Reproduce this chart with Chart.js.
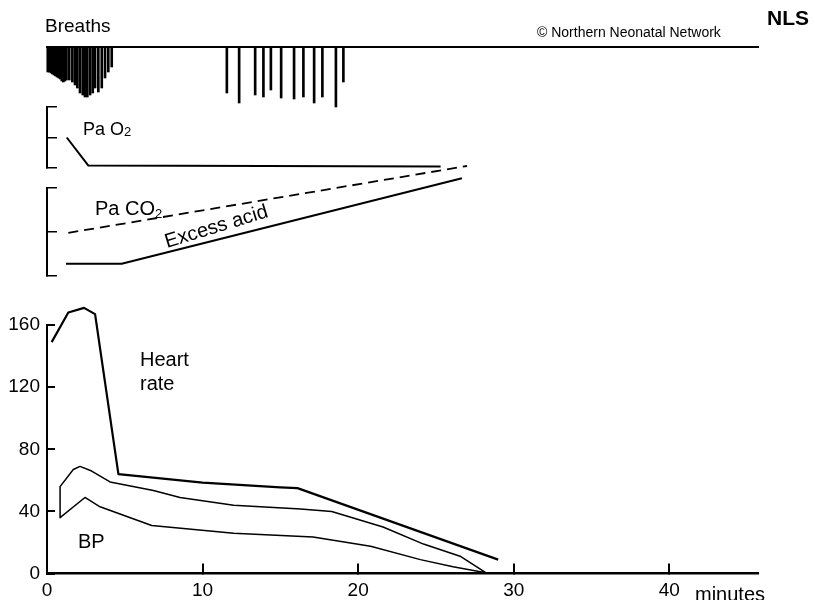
<!DOCTYPE html>
<html>
<head>
<meta charset="utf-8">
<title>Neonatal asphyxia timeline</title>
<script src="https://cdn.jsdelivr.net/npm/chart.js@4.4.1/dist/chart.umd.min.js"></script>
<style>
  html, body { margin: 0; padding: 0; background: #fff; }
  #wrap { position: relative; width: 815px; height: 600px; overflow: hidden;
          font-family: "Liberation Sans", Arial, sans-serif; color: #000; }
  canvas { position: absolute; left: 0; top: 0; }
  .lbl { position: absolute; white-space: nowrap; line-height: 1; }
  .lbl sub { font-size: 13px; vertical-align: -2px; line-height: 0; }
</style>
</head>
<body>
<div id="wrap">
  <canvas id="breaths" width="815" height="600"></canvas>
  <canvas id="po2" width="815" height="600"></canvas>
  <canvas id="pco2" width="815" height="600"></canvas>
  <canvas id="heart" width="815" height="600"></canvas>

  <div class="lbl" style="left:45px;top:16px;font-size:19px">Breaths</div>
  <div class="lbl" style="left:537px;top:25px;font-size:14px">© Northern Neonatal Network</div>
  <div class="lbl" style="left:767px;top:7px;font-size:21px;font-weight:bold">NLS</div>
  <div class="lbl" style="left:83px;top:120px;font-size:18px">Pa O<sub style="vertical-align:-1px">2</sub></div>
  <div class="lbl" style="left:95px;top:198px;font-size:20px">Pa CO<sub style="vertical-align:-3px">2</sub></div>
  <div class="lbl" style="left:167px;top:231px;font-size:20px;transform-origin:0 17px;transform:rotate(-17deg)">Excess acid</div>
  <div class="lbl" style="left:140px;top:347px;font-size:20px;line-height:24px">Heart<br>rate</div>
  <div class="lbl" style="left:78px;top:531px;font-size:20px">BP</div>
  <div class="lbl" style="left:695px;top:584px;font-size:20px">minutes</div>
</div>

<script>
// time axis, minutes
var X_MAX = 45.7;
var xTicks = [0, 10, 20, 30, 40];

// gasping: time (min) and depth of each breath
var breathT = [0.05, 0.15, 0.25, 0.35, 0.45, 0.55, 0.65, 0.75, 0.85, 0.95, 1.05, 1.15, 1.25,
               1.43, 1.63, 1.8, 1.95, 2.12, 2.3, 2.44, 2.59, 2.77, 2.94, 3.09, 3.3, 3.52, 3.73, 3.94, 4.16,
               11.56, 12.35, 13.38, 13.91, 14.39, 15.05, 15.88, 16.48, 17.17, 17.7, 18.57, 19.05];
var breathDepth = [25, 25, 26, 27, 28, 29, 30, 31, 32, 34, 35, 34, 33,
                   33, 35, 38, 41, 46, 48, 50, 50, 48, 46, 41, 45, 41, 31, 25, 20,
                   46, 56, 48, 50, 43, 51, 52, 50, 56, 50, 60, 35];

// blood gases (relative units, 0-10 per panel)
var gasTicks = [0, 5, 10];
var po2T = [1.27, 2.66, 25.3];
var po2 = [5, 0.4, 0.25];
var pco2T = [1.37, 27.0];
var pco2 = [4.9, 12.5];
var acidT = [1.22, 4.8, 26.67];
var acid = [1.4, 1.4, 11.1];

// heart rate and blood pressure
var hrTicks = [0, 40, 80, 120, 160];
var hrT = [0.3, 1.37, 2.38, 3.09, 4.59, 10, 15, 16.1, 29];
var hr = [149, 168, 171, 167, 64, 58.5, 55.5, 55, 9];
var sysT = [0.84, 1.69, 2.12, 2.87, 4.05, 6.84, 8.55, 12, 16.3, 18.3, 21.6, 24.2, 26.6, 28.3];
var sys = [56, 67, 69, 66, 59, 53.5, 49, 44, 41.5, 40, 30, 19, 11, 0];
var diaT = [0.84, 2.44, 3.41, 6.73, 12, 17.1, 20.8, 24, 26.1, 28.2];
var dia = [36, 49, 43, 31, 26, 23.5, 17.6, 9, 4.4, 0.5];

var INK = '#000';
var FONT = { family: '"Liberation Sans", Arial, sans-serif', size: 19 };

function pts(xs, ys) {
  return xs.map(function (x, i) { return { x: x, y: ys[i] }; });
}
function fixedTicks(list) {
  return function (s) { s.ticks = list.map(function (v) { return { value: v }; }); };
}
function base(padding) {
  return {
    responsive: false,
    animation: false,
    events: [],
    layout: { padding: padding },
    plugins: { legend: { display: false }, tooltip: { enabled: false } },
    elements: {
      point: { radius: 0 },
      line: { borderColor: INK, borderWidth: 2, tension: 0, borderJoinStyle: 'round' }
    }
  };
}

// breaths hang from the top rule
var bOpts = base({ left: 47, right: 57, top: 47, bottom: 493 });
bOpts.scales = {
  x: {
    type: 'linear', position: 'top', min: 0, max: X_MAX, offset: false,
    ticks: { display: false }, grid: { display: false, offset: false },
    border: { color: INK, width: 2 },
    afterFit: function (s) { s.height = 0; }
  },
  y: { display: false, reverse: true, min: 0, max: 60 }
};
new Chart(document.getElementById('breaths'), {
  type: 'bar',
  data: { datasets: [{ data: pts(breathT, breathDepth), backgroundColor: INK, barThickness: 2, clip: false }] },
  options: bOpts
});

// bracket style panels for the gases
function gasChart(id, top, bottom, datasets) {
  var o = base({ left: 47, right: 57, top: top, bottom: 600 - bottom });
  o.scales = {
    x: { type: 'linear', display: false, min: 0, max: X_MAX },
    y: {
      min: 0, max: 10,
      afterBuildTicks: fixedTicks(gasTicks),
      ticks: { display: false },
      grid: { drawOnChartArea: false, tickLength: -10, color: INK, lineWidth: 1.5 },
      border: { color: INK, width: 2 },
      afterFit: function (s) { s.width = 0; }
    }
  };
  return new Chart(document.getElementById(id), { type: 'line', data: { datasets: datasets }, options: o });
}
gasChart('po2', 107, 168, [{ data: pts(po2T, po2), clip: false }]);
gasChart('pco2', 188, 276, [
  { data: pts(pco2T, pco2), borderDash: [10, 6], borderWidth: 1.8, clip: false },
  { data: pts(acidT, acid), clip: false }
]);

// heart rate and BP outline (systolic back to start, then diastolic)
var bpOutline = pts(sysT, sys).reverse().concat(pts(diaT, dia));
var hOpts = base({ left: 7, right: 57, top: 325, bottom: 0 });
hOpts.scales = {
  x: {
    type: 'linear', min: 0, max: X_MAX,
    afterBuildTicks: fixedTicks(xTicks),
    ticks: { font: FONT, color: INK, padding: 16, maxRotation: 0, autoSkip: false },
    grid: { drawOnChartArea: false, tickLength: -10, color: INK, lineWidth: 2 },
    border: { color: INK, width: 2.5 },
    afterFit: function (s) { s.height = 23; }
  },
  y: {
    min: 0, max: 160,
    afterBuildTicks: fixedTicks(hrTicks),
    ticks: { font: FONT, color: INK, padding: 15, autoSkip: false },
    grid: { drawOnChartArea: false, tickLength: -8, color: INK, lineWidth: 2 },
    border: { color: INK, width: 2 },
    afterFit: function (s) { s.width = 40; }
  }
};
new Chart(document.getElementById('heart'), {
  type: 'line',
  data: {
    datasets: [
      { label: 'Heart rate', data: pts(hrT, hr), borderWidth: 2.2, clip: false },
      { label: 'BP', data: bpOutline, borderWidth: 1.5, clip: false }
    ]
  },
  options: hOpts
});
</script>
</body>
</html>
